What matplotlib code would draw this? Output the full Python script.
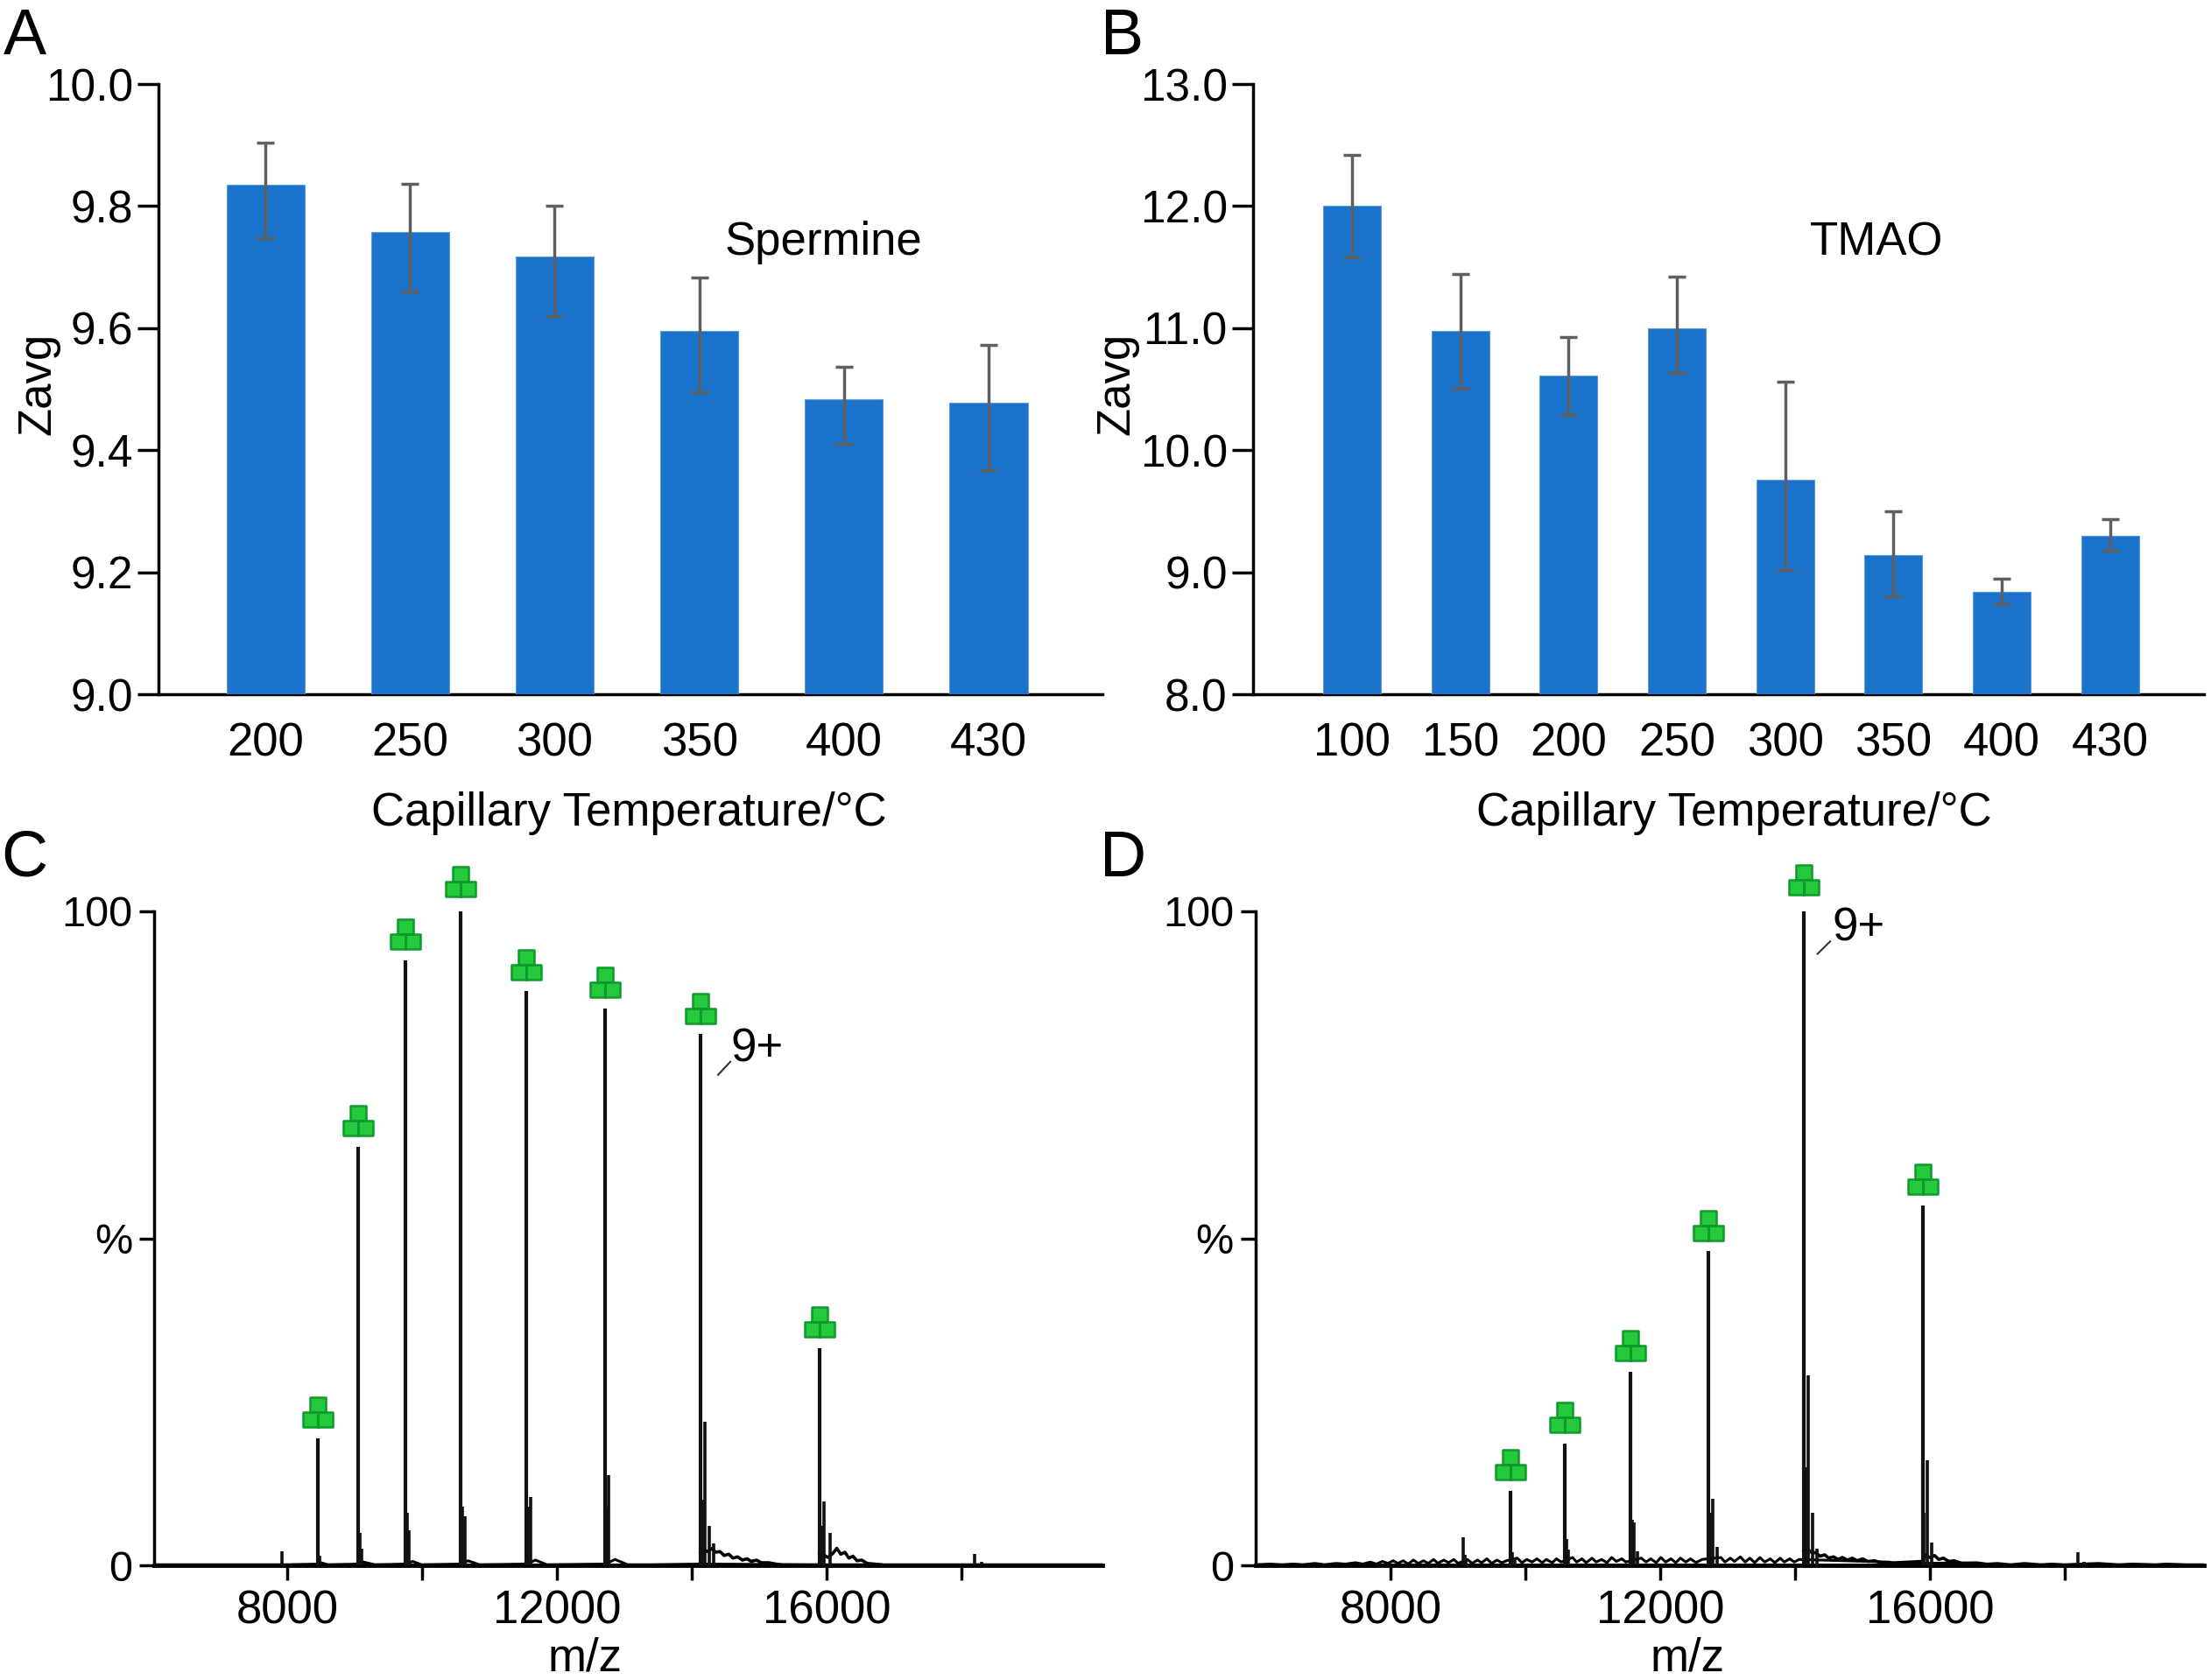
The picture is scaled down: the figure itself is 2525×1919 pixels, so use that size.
import matplotlib
matplotlib.use("Agg")
import matplotlib.pyplot as plt
from matplotlib.path import Path
from matplotlib.transforms import Affine2D

plt.rcParams['font.family'] = ['Liberation Sans', 'DejaVu Sans']

W, H = 2525, 1919

# ---------- data ----------
a_temps = ['200', '250', '300', '350', '400', '430']
a_vals = [9.835, 9.757, 9.717, 9.596, 9.483, 9.478]
a_err_hi = [9.904, 9.836, 9.80, 9.683, 9.537, 9.572]
a_err_lo = [9.748, 9.66, 9.62, 9.495, 9.41, 9.368]

b_temps = ['100', '150', '200', '250', '300', '350', '400', '430']
b_vals = [12.0, 10.98, 10.61, 11.0, 9.76, 9.14, 8.84, 9.30]
b_err_hi = [12.42, 11.44, 10.93, 11.42, 10.56, 9.50, 8.95, 9.435]
b_err_lo = [11.58, 10.5, 10.29, 10.63, 9.02, 8.80, 8.74, 9.18]

c_peak_mz = [8450, 9055, 9755, 10575, 11548, 12709, 14130, 15895]
c_peak_int = [19.4, 64, 92.5, 100.5, 87.8, 85.1, 81.2, 33.2]
c_sat_mz = [7920, 8475, 9080, 9105, 9780, 9810, 10600, 10630, 11575, 11605, 12735, 12770,
            14155, 14195, 14260, 14330, 15920, 15965, 16055, 18190, 18300]
c_sat_int = [2.1, 1.5, 5, 2.5, 8, 5.4, 9, 7.5, 9, 10.5, 9, 13.8,
             10, 22, 6, 3.3, 6, 9.8, 4.9, 1.8, 0.5]
c_tail_mz = [14130, 14170, 14240, 14300, 14350, 14420, 14480, 14550, 14610, 14680, 14750,
             14820, 14880, 14960, 15030, 15140, 15300]
c_tail_int = [2.0, 2.4, 2.1, 2.6, 2.0, 2.1, 1.5, 1.7, 1.1, 1.3, 0.8,
              1.0, 0.6, 0.8, 0.4, 0.4, 0.1]
c_tail2_mz = [15895, 15950, 16020, 16090, 16150, 16210, 16270, 16330, 16390, 16450, 16520, 16600, 16800]
c_tail2_int = [1.8, 1.6, 1.2, 1.8, 2.6, 1.7, 2.0, 1.1, 1.4, 0.7, 0.8, 0.3, 0.1]
c_base_mz = [6026, 8000, 8460, 8500, 8600, 9065, 9130, 9300, 9765, 9860, 9990, 10585, 10680, 10850,
             11560, 11680, 11850, 12720, 12860, 13050, 13400, 14120, 15890, 16900, 18400, 20090]
c_base_int = [0.1, 0.1, 0.2, 0.4, 0.1, 0.2, 0.5, 0.1, 0.2, 0.6, 0.1, 0.2, 0.7, 0.1,
              0.2, 0.8, 0.1, 0.2, 0.9, 0.1, 0.1, 0.2, 0.1, 0.1, 0.1, 0.1]

d_peak_mz = [9775, 10585, 11557, 12710, 14130, 15890]
d_peak_int = [11.4, 18.6, 29.6, 48, 100.8, 55]
d_sat_mz = [9078, 9100, 9120, 9800, 9840, 10610, 10640, 11585, 11612, 11660, 12735, 12775, 12840,
            14155, 14190, 14255, 14330, 15915, 15955, 16030, 18190, 18290]
d_sat_int = [4.3, 1.6, 1.0, 2, 1.2, 4, 2.4, 7, 6.5, 2.2, 8, 10.2, 2.8,
             15, 29, 8, 2.6, 8, 16, 3.5, 2.0, 0.6]
d_tail_mz = [14130, 14170, 14240, 14310, 14370, 14440, 14500, 14570, 14640, 14700, 14780,
             14850, 14920, 15000, 15080, 15180, 15300,
             15890, 15930, 16000, 16070, 16130, 16200, 16280, 16360, 16500]
d_tail_int = [2.2, 2.6, 2.0, 1.9, 1.4, 1.6, 1.1, 1.3, 0.9, 1.2, 0.8,
              1.1, 0.7, 1.0, 0.6, 0.7, 0.3,
              0.6, 1.6, 1.2, 1.5, 0.9, 1.1, 0.6, 0.7, 0.2]
d_base_mz = [6000, 6210, 6390, 6560, 6700, 6880, 7020, 7190, 7330, 7480, 7590, 7700, 7790, 7880, 7960,
             8040, 8110, 8190, 8260, 8340, 8410, 8490, 8560, 8640, 8700, 8790, 8860, 8940, 9000, 9140,
             9210, 9290, 9350, 9430, 9500, 9580, 9650, 9720, 9880, 9950, 10020, 10100, 10170, 10250,
             10310, 10400, 10460, 10530, 10700, 10760, 10840, 10900, 10990, 11050, 11130, 11210, 11280,
             11350, 11430, 11490, 11720, 11790, 11860, 11940, 12010, 12080, 12160, 12230, 12300, 12380,
             12450, 12530, 12620, 12900, 12960, 13040, 13100, 13190, 13260, 13330, 13400, 13480, 13550,
             13630, 13700, 13780, 13840, 13920, 13990, 14060, 15400, 15520, 15640, 15800, 16700, 16850,
             17000, 17200, 17400, 17650, 17800, 18000, 18500, 18800, 19000, 19350, 19500, 19800, 20065]
d_base_int = [0.1, 0.2, 0.1, 0.2, 0.1, 0.3, 0.1, 0.3, 0.2, 0.4, 0.2, 0.5, 0.2, 0.6, 0.3,
              0.7, 0.3, 0.7, 0.2, 0.8, 0.3, 0.7, 0.3, 0.9, 0.3, 0.8, 0.4, 0.9, 0.3, 0.9,
              0.3, 0.8, 0.4, 1.0, 0.3, 0.8, 0.4, 0.7, 1.1, 0.4, 0.9, 0.5, 1.0, 0.4,
              0.9, 0.4, 1.0, 0.5, 1.2, 0.5, 1.0, 0.4, 1.1, 0.5, 0.9, 0.4, 1.2,
              0.6, 1.0, 0.5, 1.1, 0.5, 1.0, 0.4, 1.2, 0.5, 1.0, 0.4, 1.1, 0.5,
              1.0, 0.4, 0.9, 1.2, 0.5, 1.1, 0.6, 1.3, 0.5, 1.1, 0.4, 1.2, 0.5,
              1.0, 0.4, 1.1, 0.5, 1.0, 0.5, 0.9, 0.5, 0.2, 0.4, 0.3, 0.4, 0.2,
              0.3, 0.1, 0.3, 0.1, 0.2, 0.1, 0.3, 0.1, 0.2, 0.1, 0.2, 0.1, 0.1]

BLUE = '#1A72CB'
GREY = '#5F5F5F'
FS = 38


def pix_axes(fig, l, t, r, b):
    return fig.add_axes([l / W, 1 - b / H, (r - l) / W, (b - t) / H])


def ftext(fig, x, y, s, **kw):
    kw.setdefault('ha', 'center')
    kw.setdefault('va', 'center')
    kw.setdefault('fontsize', FS)
    fig.text(x / W, 1 - y / H, s, **kw)


def glycan_path():
    sq = Path.unit_rectangle()
    parts = [sq.transformed(Affine2D().translate(-0.5, 0)),
             sq.transformed(Affine2D().translate(-1, -1)),
             sq.transformed(Affine2D().translate(0, -1))]
    return Path.make_compound_path(*parts)


def style(ax):
    for s in ('top', 'right'):
        ax.spines[s].set_visible(False)
    for s in ('left', 'bottom'):
        ax.spines[s].set_linewidth(2.5)


def bars(ax, labels, vals, hi, lo, xlim, width, ylim, yticks, yfmt):
    x = list(range(len(vals)))
    ax.bar(x, vals, width=width, color=BLUE, edgecolor='#5C9BDD', linewidth=0.8, zorder=3)
    yerr = [[v - l for v, l in zip(vals, lo)], [h - v for v, h in zip(vals, hi)]]
    ax.errorbar(x, vals, yerr=yerr, fmt='none', ecolor=GREY, elinewidth=2.5,
                capsize=7.5, capthick=2.5, zorder=4)
    ax.set_xlim(*xlim)
    ax.set_ylim(*ylim)
    ax.set_xticks(x, labels)
    ax.set_yticks(yticks, [yfmt % t for t in yticks])
    ax.tick_params(axis='x', length=0, pad=23, labelsize=FS)
    ax.tick_params(axis='y', length=17, width=2.5, pad=4, labelsize=37)
    style(ax)


def spectrum(ax, peak_mz, peak_int, sat_mz, sat_int, tails, base_mz, base_int, xlim):
    ax.plot(base_mz, base_int, color='black', lw=2.2, zorder=2)
    for t_mz, t_int in tails:
        ax.plot(t_mz, t_int, color='black', lw=2.6, zorder=2)
    ax.vlines(peak_mz, 0, peak_int, color='#111111', lw=3.0, zorder=3)
    ax.vlines(sat_mz, 0, sat_int, color='#111111', lw=2.6, zorder=3)
    ax.plot(peak_mz, [p + 4.0 for p in peak_int], ls='none', marker=glycan_path(), ms=25,
            mfc='#25C93C', mec='#0F9A2C', mew=1.8, zorder=4, clip_on=False)
    ax.set_xlim(*xlim)
    ax.set_ylim(0, 100)
    ax.set_xticks([8000, 12000, 16000], ['8000', '12000', '16000'])
    ax.set_xticks([10000, 14000, 18000], minor=True)
    ax.set_yticks([0, 50, 100], ['0', '%', '100'])
    ax.tick_params(axis='x', which='both', length=12, width=2.5, pad=8, labelsize=38)
    ax.tick_params(axis='y', length=12, width=2.5, pad=6, labelsize=35)
    style(ax)
    ax.spines['bottom'].set_linewidth(3.5)


fig = plt.figure(figsize=(W / 100, H / 100), dpi=100, facecolor='white')

axA = pix_axes(fig, 181, 96, 1259, 793)
bars(axA, a_temps, a_vals, a_err_hi, a_err_lo, (-0.739, 5.787), 0.539, (9.0, 10.0),
     [9.0, 9.2, 9.4, 9.6, 9.8, 10.0], '%.1f')

axB = pix_axes(fig, 1431, 96, 2517, 793)
bars(axB, b_temps, b_vals, b_err_hi, b_err_lo, (-0.913, 7.866), 0.534, (8.0, 13.0),
     [8.0, 9.0, 10.0, 11.0, 12.0, 13.0], '%.1f')

axC = pix_axes(fig, 176, 1041, 1259, 1788)
spectrum(axC, c_peak_mz, c_peak_int, c_sat_mz, c_sat_int,
         [(c_tail_mz, c_tail_int), (c_tail2_mz, c_tail2_int)],
         c_base_mz, c_base_int, (6026, 20090))
axC.text(14573, 78.9, '9+', fontsize=FS, ha='left', va='center')
axC.plot([14390, 14571], [75, 77], color='#333333', lw=1.5)

axD = pix_axes(fig, 1434, 1041, 2517, 1788)
spectrum(axD, d_peak_mz, d_peak_int, d_sat_mz, d_sat_int,
         [(d_tail_mz, d_tail_int)],
         d_base_mz, d_base_int, (6000, 20065))
axD.text(14558, 97.4, '9+', fontsize=FS, ha='left', va='center')
axD.plot([14333, 14520], [93.5, 95.4], color='#333333', lw=1.5)

ftext(fig, 718, 929, 'Capillary Temperature/°C')
ftext(fig, 1980, 929, 'Capillary Temperature/°C')
ftext(fig, 668, 1894, 'm/z')
ftext(fig, 1927, 1894, 'm/z')
ftext(fig, 43, 438, 'Zavg', rotation=90)
ftext(fig, 1275, 438, 'Zavg', rotation=90)
ftext(fig, 940, 277, 'Spermine')
ftext(fig, 2143, 277, 'TMAO')
for s, x, y in [('A', 28, 42), ('B', 1282, 42), ('C', 28, 981), ('D', 1283, 981)]:
    ftext(fig, x, y, s, fontsize=53)

fig.savefig('out.png', dpi=100, facecolor='white')
